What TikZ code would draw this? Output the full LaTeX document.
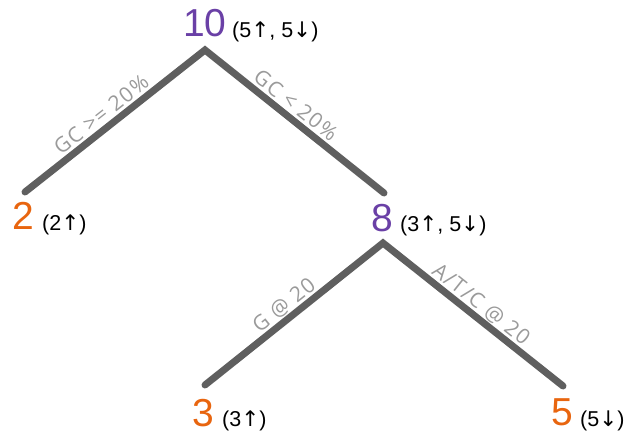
\documentclass[tikz,border=0pt]{standalone}
\usepackage{fontspec}
\setmainfont{Liberation Sans}
\newfontfamily\lblfont[LetterSpace=7]{Open Sans}
\newfontfamily\arrfont{DejaVu Sans}
\definecolor{numpurple}{HTML}{6A40A6}
\definecolor{numorange}{HTML}{E8650F}
\definecolor{branchgray}{HTML}{5F5F5F}
\definecolor{lblgray}{HTML}{9A9A9A}
\newcommand{\up}{{\arrfont\char"2191}}
\newcommand{\dn}{{\arrfont\char"2193}}
\tikzset{
  branch/.style={draw=branchgray, line width=7pt, line cap=round, line join=miter},
  numpurp/.style={text=numpurple, font=\fontsize{39}{39}\selectfont, inner sep=0pt, anchor=base},
  numorng/.style={text=numorange, font=\fontsize{39}{39}\selectfont, inner sep=0pt, anchor=base},
  counts/.style={text=black, font=\fontsize{21.5}{21.5}\selectfont, inner sep=0pt, anchor=base west},
  edgelbl/.style={text=lblgray, font=\lblfont\fontsize{21}{21}\selectfont, sloped, above=6pt, inner sep=0pt, text depth=0pt}
}
\begin{document}
\begin{tikzpicture}[x=1pt,y=-1pt]
\useasboundingbox (0,0) rectangle (630,433);
% numbers
\node[numpurp] (n10) at (205,37) {10};
\node[counts] (c10) at (232,37.5) {(5\up, 5\dn)};
\node[numorng] (n2) at (23.5,230) {2};
\node[counts] (c2) at (42,230.5) {(2\up)};
\node[numpurp] (n8) at (382.5,232) {8};
\node[counts] (c8) at (400,232) {(3\up, 5\dn)};
\node[numorng] (n3) at (203.5,426) {3};
\node[counts] (c3) at (222,426.5) {(3\up)};
\node[numorng] (n5) at (562,425.5) {5};
\node[counts] (c5) at (580,426) {(5\dn)};
% branch points
\coordinate (a10) at (205,50);
\coordinate (t2) at (25,192);
\coordinate (t8) at (384,193);
\coordinate (a8) at (383,243);
\coordinate (t3) at (205,385);
\coordinate (t5) at (563,386);
% branches
\draw[branch] (t2) -- (a10) -- (t8);
\draw[branch] (t3) -- (a8) -- (t5);
% labels
\path (t2) -- node[edgelbl, pos=0.47] (l1) {GC >= 20\%} (a10);
\path (a10) -- node[edgelbl, pos=0.46] (l2) {GC < 20\%} (t8);
\path (t3) -- node[edgelbl, pos=0.49] (l3) {G @ 20} (a8);
\path (a8) -- node[edgelbl, pos=0.5] (l4) {A/T/C @ 20} (t5);
\end{tikzpicture}
\end{document}
